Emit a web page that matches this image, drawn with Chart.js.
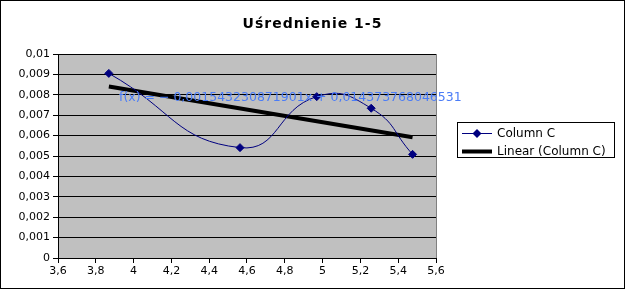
<!DOCTYPE html>
<html>
<head>
<meta charset="utf-8">
<script src="https://cdn.jsdelivr.net/npm/chart.js@4.4.1/dist/chart.umd.min.js"></script>
<style>
  html, body { margin: 0; padding: 0; background: #fff; }
  #wrap { width: 625px; height: 289px; position: relative; }
</style>
</head>
<body>
<div id="wrap"><canvas id="chart"></canvas></div>
<script>
// values
const xValues = [3.869, 4.563, 4.969, 5.257, 5.476];
const yValues = [0.00905, 0.00541, 0.00791, 0.00734, 0.00508];
const trendSlope = -0.001543230871901;
const trendIntercept = 0.014373768046531;
const equationText = 'f(x) = − 0,001543230871901x + 0,014373768046531';
const seriesLabel = 'Column C';
const trendLabel = 'Linear (Column C)';
const titleText = 'Uśrednienie 1-5';

const fontFamily = "'DejaVu Sans', sans-serif";
const commaNum = (v, d) => Number(v.toFixed(d)).toString().replace('.', ',');

const points = xValues.map((x, i) => ({ x, y: yValues[i] }));
const xFirst = xValues[0], xLast = xValues[xValues.length - 1];
const trendPoints = [
  { x: xFirst, y: trendSlope * xFirst + trendIntercept },
  { x: xLast, y: trendSlope * xLast + trendIntercept }
];

const frame = {
  id: 'frame',
  beforeDraw(chart) {
    const { ctx, chartArea: a } = chart;
    ctx.save();
    ctx.fillStyle = '#c0c0c0';
    ctx.fillRect(a.left, a.top, a.right - a.left, a.bottom - a.top);
    ctx.restore();
  },
  afterDraw(chart) {
    const { ctx, chartArea: a, width, height } = chart;
    ctx.save();
    // right edge of plot
    ctx.strokeStyle = '#808080';
    ctx.lineWidth = 1;
    ctx.beginPath();
    ctx.moveTo(Math.round(a.right) + 0.5, a.top);
    ctx.lineTo(Math.round(a.right) + 0.5, a.bottom);
    ctx.stroke();
    // outer frame
    ctx.strokeStyle = '#000';
    ctx.strokeRect(0.5, 0.5, width - 1, height - 1);

    // title, centred on the whole picture
    ctx.fillStyle = '#000';
    ctx.font = 'bold 14px ' + fontFamily;
    ctx.letterSpacing = '1px';
    ctx.textAlign = 'center';
    ctx.textBaseline = 'alphabetic';
    ctx.fillText(titleText, width / 2, 28);
    ctx.letterSpacing = '0px';
    ctx.textAlign = 'left';

    // equation label
    ctx.fillStyle = '#4a7cf7';
    ctx.font = '12.5px ' + fontFamily;
    ctx.textBaseline = 'middle';
    ctx.fillText(equationText, 119, 97.5);

    // legend
    const lx = 457, ly = 122, lw = 157, lh = 35;
    ctx.fillStyle = '#fff';
    ctx.fillRect(lx, ly, lw, lh);
    ctx.strokeStyle = '#000';
    ctx.strokeRect(lx + 0.5, ly + 0.5, lw, lh);
    ctx.font = '12px ' + fontFamily;
    chart.data.datasets.forEach((ds, i) => {
      const cy = ly + 11.5 + i * 18;
      ctx.strokeStyle = ds.borderColor;
      ctx.lineWidth = ds.borderWidth;
      ctx.beginPath();
      ctx.moveTo(462, cy);
      ctx.lineTo(492, cy);
      ctx.stroke();
      if (ds.pointRadius > 0) {
        ctx.fillStyle = ds.pointBackgroundColor;
        ctx.beginPath();
        ctx.moveTo(477, cy - 4.5);
        ctx.lineTo(481.5, cy);
        ctx.lineTo(477, cy + 4.5);
        ctx.lineTo(472.5, cy);
        ctx.closePath();
        ctx.fill();
      }
      ctx.fillStyle = '#000';
      ctx.fillText(ds.label, 497, cy);
    });
    ctx.restore();
  }
};

new Chart(document.getElementById('chart'), {
  type: 'scatter',
  data: {
    datasets: [
      {
        label: seriesLabel,
        data: points,
        showLine: true,
        tension: 0.5,
        borderColor: '#000080',
        borderWidth: 1,
        pointStyle: 'rectRot',
        pointRadius: 4,
        pointBackgroundColor: '#000080',
        pointBorderColor: '#000080',
        pointBorderWidth: 1
      },
      {
        label: trendLabel,
        data: trendPoints,
        showLine: true,
        borderColor: '#000',
        borderWidth: 4,
        pointRadius: 0
      }
    ]
  },
  options: {
    responsive: true,
    maintainAspectRatio: false,
    animation: false,
    layout: { padding: { left: 0, right: 189, top: 54, bottom: 0 } },
    plugins: {
      legend: { display: false },
      tooltip: { enabled: false },
      title: { display: false }
    },
    scales: {
      x: {
        type: 'linear',
        min: 3.6,
        max: 5.6,
        afterFit: s => { s.height = 31; },
        ticks: {
          stepSize: 0.2,
          color: '#000',
          font: { family: fontFamily, size: 11 },
          padding: 2,
          maxRotation: 0,
          callback: v => commaNum(v, 1)
        },
        grid: { drawOnChartArea: false, color: '#000', tickLength: 5 },
        border: { color: '#000', width: 1 }
      },
      y: {
        min: 0,
        max: 0.01,
        afterFit: s => { s.width = 58; },
        ticks: {
          stepSize: 0.001,
          color: '#000',
          font: { family: fontFamily, size: 11 },
          padding: 3,
          callback: v => commaNum(v, 3)
        },
        grid: { color: '#000', lineWidth: 1, tickLength: 5 },
        border: { color: '#000', width: 1 }
      }
    }
  },
  plugins: [frame]
});
</script>
</body>
</html>
